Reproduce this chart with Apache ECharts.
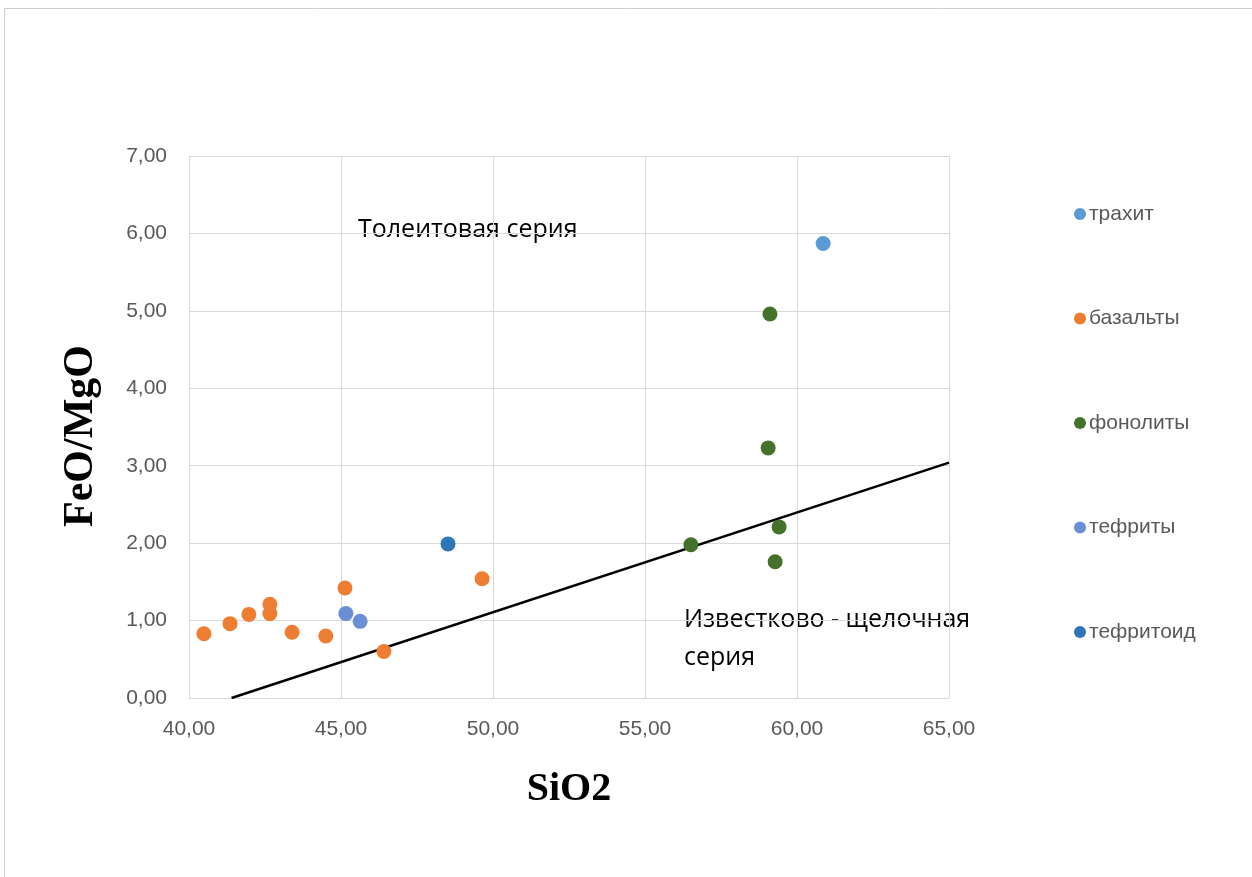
<!DOCTYPE html>
<html>
<head>
<meta charset="utf-8">
<script src="https://cdn.jsdelivr.net/npm/echarts@6/dist/echarts.min.js"></script>
<style>
  html, body { margin: 0; padding: 0; background: #fff; }
  #chart { width: 1252px; height: 877px; }
</style>
</head>
<body>
<div id="chart"></div>
<script>
// SiO2 vs FeO/MgO for the rock groups
const trachyte   = [[60.86, 5.87]];
const basalts    = [[40.49, 0.83], [41.35, 0.96], [41.97, 1.08], [42.66, 1.21], [42.66, 1.09],
                    [43.39, 0.85], [44.50, 0.80], [45.13, 1.42], [46.41, 0.60], [49.64, 1.54]];
const phonolites = [[59.11, 4.96], [59.05, 3.23], [59.41, 2.21], [56.51, 1.98], [59.28, 1.76]];
const tephrites  = [[45.16, 1.09], [45.63, 0.99]];
const tephritoid = [[48.52, 1.99]];
// dividing line between the tholeiitic and calc-alkaline series
const boundary   = [[41.40, 0.00], [65.00, 3.04]];

const seriesNames  = ['трахит', 'базальты', 'фонолиты', 'тефриты', 'тефритоид'];
const seriesData   = [trachyte, basalts, phonolites, tephrites, tephritoid];
const seriesColors = ['#5B9BD5', '#ED7D31', '#44722A', '#6A8FD5', '#2E75B6'];

const xTicks = { min: 40, max: 65, interval: 5 };
const yTicks = { min: 0, max: 7, interval: 1 };

const fmt = v => v.toFixed(2).replace('.', ',');
const sans = 'Liberation Sans, Arial, sans-serif';
const serif = 'Liberation Serif, Times New Roman, serif';
const noteFont = 'Open Sans, DejaVu Sans, sans-serif';
const tickFont = { color: '#595959', fontSize: 21, fontFamily: sans };

const chart = echarts.init(document.getElementById('chart'), null, { renderer: 'canvas' });

const scatterSeries = seriesNames.map((name, i) => ({
  name,
  type: 'scatter',
  data: seriesData[i],
  symbol: 'circle',
  symbolSize: 15,
  itemStyle: { color: seriesColors[i], opacity: 1 },
  z: 3
}));

chart.setOption({
  animation: false,
  backgroundColor: '#fff',
  grid: { left: 189, top: 156, width: 760, height: 542, containLabel: false },
  xAxis: {
    type: 'value',
    min: xTicks.min, max: xTicks.max, interval: xTicks.interval,
    name: 'SiO2', nameLocation: 'middle', nameGap: 72,
    nameTextStyle: { fontFamily: serif, fontWeight: 'bold', fontSize: 40, color: '#000' },
    axisLine: { show: true, lineStyle: { color: '#D9D9D9', width: 1 } },
    axisTick: { show: false },
    axisLabel: Object.assign({ formatter: fmt, margin: 21 }, tickFont),
    splitLine: { show: true, lineStyle: { color: '#D9D9D9', width: 1 } }
  },
  yAxis: {
    type: 'value',
    min: yTicks.min, max: yTicks.max, interval: yTicks.interval,
    axisLine: { show: true, lineStyle: { color: '#D9D9D9', width: 1 } },
    axisTick: { show: false },
    axisLabel: Object.assign({ formatter: fmt, margin: 22 }, tickFont),
    splitLine: { show: true, lineStyle: { color: '#D9D9D9', width: 1 } }
  },
  legend: {
    orient: 'vertical',
    left: 1069, top: 197,
    icon: 'circle',
    itemWidth: 12, itemHeight: 12,
    itemGap: 80.5,
    data: seriesNames,
    textStyle: { color: '#595959', fontSize: 21, lineHeight: 24, fontFamily: sans, padding: [0, 0, 0, -2] }
  },
  graphic: [
    { type: 'rect', shape: { x: 4.5, y: 8.5, width: 1400, height: 1000 },
      style: { fill: 'none', stroke: '#D0D0D0', lineWidth: 1 }, silent: true, z: -10 },
    // vertical axis title
    { type: 'text', x: 81, y: 436, rotation: Math.PI / 2,
      style: { text: 'FeO/MgO', fill: '#000', fontSize: 42, fontWeight: 'bold', fontFamily: serif,
               align: 'center', verticalAlign: 'middle' } },
    { type: 'text', x: 358, y: 230,
      style: { text: 'Толеитовая серия', fill: '#000', fontSize: 25, verticalAlign: 'middle', fontFamily: noteFont } },
    { type: 'text', x: 684, y: 639,
      style: { text: 'Известково - щелочная\nсерия', fill: '#000', fontSize: 25, lineHeight: 38,
               verticalAlign: 'middle', fontFamily: noteFont } }
  ],
  series: scatterSeries.concat([{
    name: 'boundary',
    type: 'line',
    data: boundary,
    symbol: 'none',
    lineStyle: { color: '#000', width: 2.5 },
    z: 2,
    silent: true
  }])
});
</script>
</body>
</html>
